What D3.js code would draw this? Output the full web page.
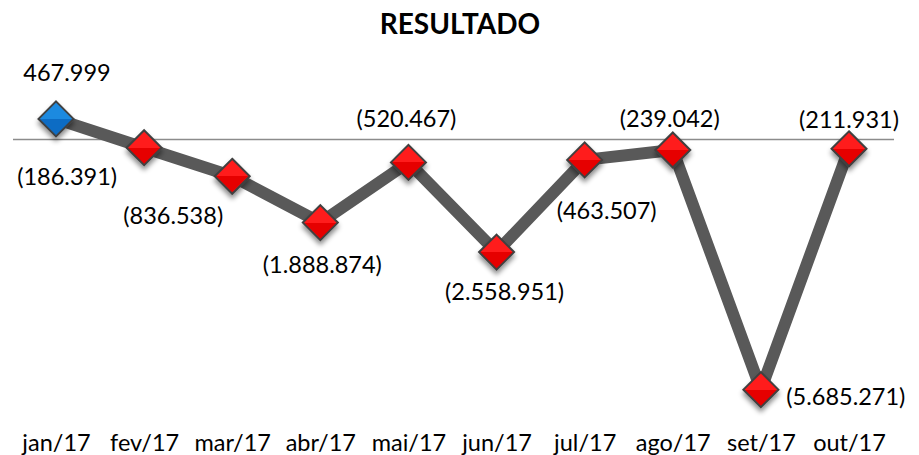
<!DOCTYPE html>
<html>
<head>
<meta charset="utf-8">
<script src="https://cdn.jsdelivr.net/npm/d3@7/dist/d3.min.js"></script>
<style>
  html, body { margin: 0; padding: 0; background: #ffffff; }
  svg { display: block; }
  text { font-family: Lato, "Open Sans", sans-serif; fill: #000; }
</style>
</head>
<body>
<svg id="chart" width="919" height="455"></svg>
<script>
// ---- data ----
const title = "RESULTADO";
const categories = ["jan/17", "fev/17", "mar/17", "abr/17", "mai/17", "jun/17", "jul/17", "ago/17", "set/17", "out/17"];
const values = [467999, -186391, -836538, -1888874, -520467, -2558951, -463507, -239042, -5685271, -211931];

// ---- layout ----
const W = 919, H = 455;
const svg = d3.select("#chart");

const x = d3.scalePoint().domain(categories).range([56, 849]);
const y = d3.scaleLinear().domain([-6000000, 1000000]).range([403.5, 95.5]);

// number formatting: pt-BR style with parentheses for negatives
const fmtAbs = d3.formatLocale({ decimal: ",", thousands: ".", grouping: [3], currency: ["R$", ""] }).format(",.0f");
const fmt = v => v < 0 ? "(" + fmtAbs(-v) + ")" : fmtAbs(v);

// label offsets relative to each point (placement, not data)
const labelOffsets = [[11, -47], [-77, 28], [-59, 39], [2, 41], [-2, -44], [8, 39], [22, 50], [-3, -32], [85, 6], [0, -30]];

const defs = svg.append("defs");
const shadow = defs.append("filter").attr("id", "shadow")
  .attr("x", "-50%").attr("y", "-50%").attr("width", "200%").attr("height", "200%");
shadow.append("feDropShadow").attr("dx", 0).attr("dy", 4).attr("stdDeviation", 2.5)
  .attr("flood-color", "#000").attr("flood-opacity", 0.45);

function grad(id, top, bottom) {
  const g = defs.append("linearGradient").attr("id", id).attr("x1", 0).attr("y1", 0).attr("x2", 0).attr("y2", 1);
  g.append("stop").attr("offset", "0%").attr("stop-color", top);
  g.append("stop").attr("offset", "50%").attr("stop-color", top);
  g.append("stop").attr("offset", "50%").attr("stop-color", bottom);
  g.append("stop").attr("offset", "100%").attr("stop-color", bottom);
}
grad("gRed", "#ff1a1a", "#e60000");
grad("gBlue", "#1f8ae0", "#0a6cc4");

// title
svg.append("text").attr("x", 460).attr("y", 34).attr("text-anchor", "middle")
  .style("font-weight", "bold").style("font-size", "28px").text(title);

// zero line
svg.append("line").attr("x1", 13).attr("x2", 894)
  .attr("y1", y(0)).attr("y2", y(0))
  .attr("stroke", "#8c8c8c").attr("stroke-width", 1.5);

// line series
const line = d3.line().x((d, i) => x(categories[i])).y(d => y(d));
svg.append("path").datum(values).attr("d", line)
  .attr("fill", "none").attr("stroke", "#595959").attr("stroke-width", 12)
  .attr("stroke-linejoin", "round");

// diamond marker
const diamond = {
  draw(ctx, size) {
    const r = Math.sqrt(size / 2);
    ctx.moveTo(0, -r); ctx.lineTo(r, 0); ctx.lineTo(0, r); ctx.lineTo(-r, 0); ctx.closePath();
  }
};
svg.append("g").selectAll("path").data(values).join("path")
  .attr("transform", (d, i) => `translate(${x(categories[i])},${y(d)})`)
  .attr("d", d3.symbol().type(diamond).size(2 * 17.5 * 17.5))
  .attr("fill", (d, i) => i === 0 ? "url(#gBlue)" : "url(#gRed)")
  .attr("stroke", "#404040").attr("stroke-width", 2)
  .attr("filter", "url(#shadow)");

// data labels
svg.append("g").selectAll("text").data(values).join("text")
  .attr("x", (d, i) => x(categories[i]) + labelOffsets[i][0])
  .attr("y", (d, i) => y(d) + labelOffsets[i][1])
  .attr("text-anchor", "middle").attr("dominant-baseline", "central")
  .style("font-size", "23.5px")
  .text(d => fmt(d));

// category axis labels
const xAxis = d3.axisBottom(x).tickSize(0).tickPadding(0);
const ax = svg.append("g").attr("transform", "translate(0,434)").call(xAxis);
ax.select(".domain").remove();
ax.selectAll("text").style("font-size", "23.5px").style("font-family", "Lato, 'Open Sans', sans-serif").attr("fill", "#000");
</script>
</body>
</html>
